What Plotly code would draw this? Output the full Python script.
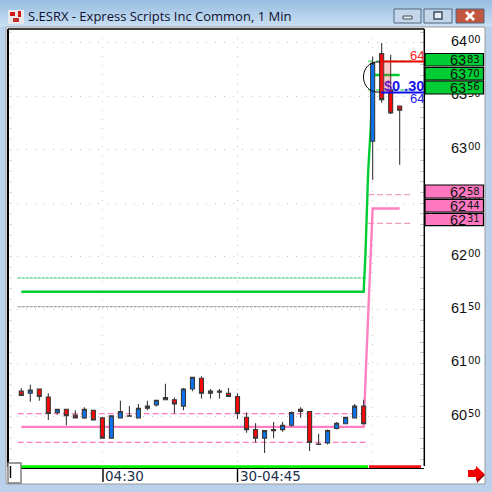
import plotly.graph_objects as go

# Price data (one-minute bars)
opens  = [6074,6072,6076,6068.5,6054,6057,6051.5,6049,6056,6049,6030,6049,6051,6049,6060,6061,6066,6066,6060,6076,6086,6072,6074,6072,6069,6049.5,6038,6030,6038,6038,6042,6057,6055,6024.5,6025.5,6039,6043.5,6049,6060,6308,6390,6356,6341]
highs  = [6077,6080,6076,6072,6057,6057,6056,6059,6056,6049,6051,6065,6060,6062,6065,6066,6081,6068,6077,6087,6088,6076,6076,6077,6072,6054,6044,6037,6045,6045,6055,6059,6055,6034,6038,6045,6049.5,6062,6066,6387,6400,6389,6341]
lows   = [6070,6064,6065,6047,6052,6042,6049,6048,6047,6030,6030,6049,6050,6049,6056,6059.5,6066,6053,6056,6074,6067,6067,6067,6069,6048,6035,6026,6016,6030,6036,6041,6049,6018,6024,6024,6038,6043.5,6049,6043.5,6272,6344,6333.5,6286]
closes = [6070,6075,6069,6053,6057,6051,6049,6057,6047,6030,6051,6055,6050.5,6058,6058,6065.5,6068,6062,6076,6087,6072,6074,6073,6069,6053,6038,6030,6037,6037,6042,6054,6055,6026,6024,6037,6044,6049.5,6060,6043.5,6381,6347,6334.5,6337]
bars = list(range(len(opens)))

green_x = [0, 38, 38.2, 38.5, 38.8, 39, 42]
green_y = [6167, 6167, 6202, 6279, 6323, 6370, 6370]
pink_x  = [0, 38, 38.25, 38.7, 39, 42]
pink_y  = [6040.5, 6040.5, 6094, 6187, 6245, 6245]

dash_left_x = [-0.4, 38.3]
dash_right_x = [38.5, 43.4]
pink_left_levels = [6053, 6026]
green_left_level = 6180
gray_left_level = 6153
pink_right_levels = [6258, 6231]
green_right_levels = [6383, 6356]

green_boxes = ["83", "70", "56"]
pink_boxes = ["58", "44", "31"]
price_ticks = [6050, 6100, 6150, 6200, 6250, 6300, 6350, 6400]
price_big = ["60", "61", "61", "62", "62", "63", "63", "64"]
price_small = ["50", "00", "50", "00", "50", "00", "50", "00"]
time_ticks = [9, 24, 39]
time_labels = ["04:30", "30-04:45"]

W = 492.0
PINK = "#ff7cbf"
GREEN = "#00cc33"
px = lambda v: v / W
py = lambda v: 1 - v / W
y_range = [6003.9, 6413.1]
x_range = [-1.476, 44.7]

fig = go.Figure()

def level(xs, yv, color, width=1, dash="6px,3px"):
    fig.add_trace(go.Scatter(x=xs, y=[yv] * len(xs), mode="lines", hoverinfo="skip",
                             line=dict(color=color, width=width, dash=dash)))

level(dash_left_x, green_left_level, "#22c455", 1, "3px,1px")
level(dash_left_x, gray_left_level, "#8a8a8a", 1, "3px,1px")
for v in pink_left_levels:
    level(dash_left_x, v, PINK, 1.3)
for v in pink_right_levels:
    level(dash_right_x, v, "#e8a0c0", 1.2)
for v in green_right_levels:
    level(dash_right_x, v, GREEN, 1, "5px,3px")

fig.add_trace(go.Scatter(x=green_x, y=green_y, mode="lines", line=dict(color=GREEN, width=2.4), hoverinfo="skip"))
fig.add_trace(go.Scatter(x=pink_x, y=pink_y, mode="lines", line=dict(color="#ff80c0", width=2.4), hoverinfo="skip"))

fig.add_trace(go.Candlestick(
    x=bars, open=opens, high=highs, low=lows, close=closes, xaxis="x2", yaxis="y2",
    increasing=dict(line=dict(color="#3a3a3a", width=1.1), fillcolor="#0a74f0"),
    decreasing=dict(line=dict(color="#3a3a3a", width=1.1), fillcolor="#f80808"),
    hoverinfo="skip"))

shapes = []
ann = []

def rect(x0, y0, x1, y1, fill, line=None, lw=1, layer="above"):
    shapes.append(dict(type="rect", xref="paper", yref="paper", x0=px(x0), x1=px(x1), y0=py(y0), y1=py(y1),
                       fillcolor=fill, line=dict(color=line or "rgba(0,0,0,0)", width=lw if line else 0), layer=layer))

def seg(x0, y0, x1, y1, color, lw=1, layer="above"):
    shapes.append(dict(type="line", xref="paper", yref="paper", x0=px(x0), x1=px(x1), y0=py(y0), y1=py(y1),
                       line=dict(color=color, width=lw), layer=layer))

def poly(pts, fill, layer="above"):
    path = "M " + " L ".join(f"{px(a):.5f} {py(b):.5f}" for a, b in pts) + " Z"
    shapes.append(dict(type="path", xref="paper", yref="paper", path=path, fillcolor=fill,
                       line=dict(width=0), layer=layer))

def text(x, y, s, size=12, color="black", xanchor="left", family="Liberation Sans"):
    ann.append(dict(xref="paper", yref="paper", x=px(x), y=py(y), text=s, showarrow=False, xanchor=xanchor,
                    yanchor="middle", align=xanchor, font=dict(family=family, size=size, color=color),
                    borderpad=0, borderwidth=0))

def two_part(y, big, small):
    text(450, y, big, 14.5, "#111111")
    text(467, y - 1, small, 10, "#111111", family="DejaVu Sans")

# Window chrome
for i in range(9):
    t = i / 8
    c = (int(155 + 45 * t), int(190 + 32 * t), int(226 + 16 * t))
    rect(0, i * 3, 492, i * 3 + 3, f"rgb{c}", layer="below")
rect(6, 27, 485, 484, "white", "#9a9a9a", 1, layer="below")

# Title bar
rect(8, 10, 24, 24, "#e8e8e8")
rect(10, 12, 15, 16, "#d01818")
rect(18, 11, 21, 17, "#d01818")
rect(13, 18, 19, 22, "#c03030")
text(28, 16, "S.ESRX - Express Scripts Inc Common, 1 Min", 13, "#101030", family="Open Sans")
for x0, x1, fill in [(394, 421, "#c3d6ea"), (424, 452, "#c3d6ea"), (456, 484, "#c2573f")]:
    shapes.append(dict(type="rect", xref="paper", yref="paper", x0=px(x0), x1=px(x1), y0=py(9), y1=py(23),
                       fillcolor=fill, line=dict(color="#53677f", width=1), layer="above"))
rect(403, 16, 412, 19, "#e8eef5", "#3c4a5a", 1)
rect(434, 12, 442, 19, "#e8eef5", "#3c4a5a", 1.4)
seg(466, 12, 474, 20, "white", 2.6)
seg(474, 12, 466, 20, "white", 2.6)

# Plot frame
seg(8, 29, 8, 467, "black", 2)
seg(8, 29, 424.3, 29, "black", 1.5)
seg(424.3, 29, 424.3, 466, "black", 1.5)
rect(8, 465.3, 368, 468, "#00f000")
rect(369, 465.3, 421, 468, "#f01010")
seg(8, 468.5, 424, 468.5, "black", 1.2)
seg(103, 468, 103, 482, "black", 1.4)
seg(237.5, 468, 237.5, 482, "black", 1.4)
rect(8, 463, 21, 483, "white", "#777777", 1.4)
seg(10.5, 466, 10.5, 478, "black", 1.4)

# Faint inner ticks along the left edge
for p in range(6010, 6411, 10):
    shapes.append(dict(type="line", xref="paper", yref="y", x0=px(9), x1=px(12), y0=p, y1=p,
                       line=dict(color="#dcdcdc", width=1), layer="below"))

# Right-hand level boxes
for (y0, y1), s in zip([(53.5, 66), (67.5, 80), (81, 94)], green_boxes):
    rect(425, y0, 483.5, y1, GREEN, "black", 1.2)
    two_part((y0 + y1) / 2 + 0.5, "63", s)
for (y0, y1), s in zip([(185, 198), (199.3, 212), (213.3, 225.7)], pink_boxes):
    rect(425, y0, 483.5, y1, "#ff78c0", "black", 1.2)
    two_part((y0 + y1) / 2 + 0.5, "62", s)

# Highlight, arc, price lines and profit label
rect(381, 61, 391, 93, "rgba(240,60,60,0.28)")
shapes.append(dict(type="path", xref="paper", yref="paper",
                   path=f"M {px(380):.5f} {py(62):.5f} C {px(358):.5f} {py(60):.5f} {px(358):.5f} {py(94):.5f} {px(380):.5f} {py(92):.5f}",
                   line=dict(color="black", width=1), layer="above"))
seg(381, 61.5, 424, 61.5, "#f00000", 2)
seg(381, 92.5, 424, 92.5, "#0a0af0", 2)
text(424, 55, "64", 13, "#f02020", "right")
text(424, 99, "64", 13, "#2020f0", "right")
text(424, 86, '<b><span style="color:#7020c0">$</span>0 .30</b>', 14.5, "#1515e8", "right")

# Time labels
text(105, 475.5, time_labels[0], 13.5, "#20304a", family="DejaVu Sans")
text(240, 475.5, time_labels[1], 13.5, "#20304a", family="DejaVu Sans")

# Arrow
poly([(469, 473), (477, 473), (477, 483), (485, 475), (477, 468)], "#a00000")
poly([(468, 470), (476, 470), (476, 466), (484, 473.5), (476, 481), (476, 477), (468, 477)], "#f40000")

fig.update_layout(
    width=492, height=492, margin=dict(l=0, r=0, t=0, b=0, pad=0),
    autosize=False, showlegend=False, paper_bgcolor="#b9d1ea", plot_bgcolor="white",
    boxgap=0.36, shapes=shapes, annotations=ann,
    xaxis=dict(domain=[px(8), px(424)], range=x_range, tickmode="array", tickvals=time_ticks, ticktext=["", "", ""],
               showgrid=True, gridcolor="#c4c4c4", griddash="1px,8px", gridwidth=1, zeroline=False,
               showline=False, ticks="", fixedrange=True),
    yaxis=dict(domain=[py(466), py(29)], range=y_range, side="right", tickmode="array", tickvals=price_ticks,
               ticktext=price_big, showgrid=True, gridcolor="#c4c4c4", griddash="1px,8px", gridwidth=1,
               zeroline=False, showline=False, ticks="", ticklabelstandoff=26, ticklabelshift=-2,
               tickfont=dict(family="Liberation Sans", size=14.5, color="#111111"),
               minor=dict(ticks="inside", ticklen=4, tickcolor="#c8c8c8", tickmode="linear", tick0=6000, dtick=10, showgrid=False),
               fixedrange=True),
    xaxis2=dict(overlaying="x", range=x_range, visible=False, rangeslider=dict(visible=False), fixedrange=True),
    yaxis2=dict(overlaying="y", range=y_range, side="right", tickmode="array", tickvals=price_ticks,
                ticktext=price_small, showgrid=False, zeroline=False, showline=False, ticks="",
                ticklabelstandoff=43, ticklabelshift=-3,
                tickfont=dict(family="DejaVu Sans", size=10, color="#111111"), fixedrange=True),
)
fig.write_html("out.html", config=dict(displayModeBar=False),
               post_script="document.body.style.margin='0';document.documentElement.style.overflow='hidden';")
